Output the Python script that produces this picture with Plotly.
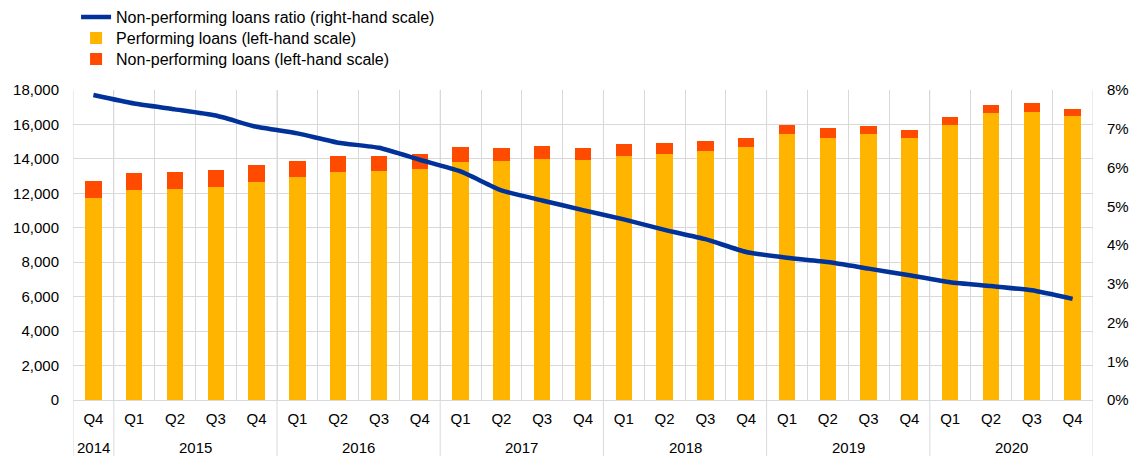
import plotly.graph_objects as go

quarters = ["Q4", "Q1", "Q2", "Q3", "Q4", "Q1", "Q2", "Q3", "Q4", "Q1", "Q2", "Q3", "Q4",
            "Q1", "Q2", "Q3", "Q4", "Q1", "Q2", "Q3", "Q4", "Q1", "Q2", "Q3", "Q4"]
years = ["2014", "2015", "2016", "2017", "2018", "2019", "2020"]
year_quarter_counts = [1, 4, 4, 4, 4, 4, 4]

performing = [11710, 12200, 12240, 12350, 12660, 12940, 13230, 13270, 13400,
              13830, 13870, 13990, 13950, 14180, 14300, 14450, 14670,
              15430, 15210, 15430, 15210, 15950, 16650, 16710, 16480]
total = [12690, 13170, 13210, 13330, 13620, 13870, 14160, 14160, 14260,
         14690, 14650, 14730, 14650, 14880, 14940, 15060, 15230,
         15990, 15780, 15930, 15700, 16440, 17140, 17220, 16910]
non_performing = [t - p for t, p in zip(total, performing)]
npl_ratio = [7.87, 7.65, 7.50, 7.34, 7.05, 6.88, 6.64, 6.51, 6.20,
             5.90, 5.41, 5.15, 4.90, 4.66, 4.39, 4.15, 3.82,
             3.67, 3.56, 3.39, 3.22, 3.04, 2.94, 2.83, 2.61]

left_ticks = list(range(0, 18001, 2000))
right_ticks = list(range(0, 9))

x = list(range(len(quarters)))

YELLOW = "#FFB400"
ORANGE = "#FF4B00"
BLUE = "#003299"
GRID = "#D9D9D9"
FONT = "Liberation Sans, Arial, sans-serif"

fig = go.Figure()
fig.add_trace(go.Scatter(x=x, y=npl_ratio, yaxis="y2", mode="lines",
                         name="Non-performing loans ratio (right-hand scale)",
                         legend="legend",
                         line=dict(color=BLUE, width=4.5, shape="spline", smoothing=0.5)))
fig.add_trace(go.Bar(x=x, y=performing, name="Performing loans (left-hand scale)",
                     legend="legend2",
                     marker=dict(color=YELLOW, line=dict(width=0))))
fig.add_trace(go.Bar(x=x, y=non_performing, name="Non-performing loans (left-hand scale)",
                     legend="legend3",
                     marker=dict(color=ORANGE, line=dict(width=0))))

# year separators extending below axis
bounds = [-0.5]
for c in year_quarter_counts:
    bounds.append(bounds[-1] + c)
shapes = []
for b in bounds:
    shapes.append(dict(type="line", xref="x", yref="paper", x0=b, x1=b, y0=-0.19, y1=1,
                       line=dict(color=GRID, width=1), layer="below"))

annotations = []
for yr, s, e in zip(years, bounds[:-1], bounds[1:]):
    annotations.append(dict(x=(s + e) / 2, y=-0.152, xref="x", yref="paper", text=yr,
                            showarrow=False, yanchor="middle",
                            font=dict(family=FONT, size=15, color="#000000")))


def leg(ypos):
    return dict(x=0.003, y=ypos, xanchor="left", yanchor="top",
                font=dict(family=FONT, size=16), itemwidth=30,
                bgcolor="rgba(0,0,0,0)")


fig.update_layout(
    width=1131, height=456,
    margin=dict(l=73, r=38, t=90, b=56, autoexpand=False),
    paper_bgcolor="white", plot_bgcolor="white",
    barmode="stack", bargap=0.6,
    font=dict(family=FONT, size=15, color="#000000"),
    showlegend=True,
    legend=leg(1.2897),
    legend2=leg(1.2219),
    legend3=leg(1.1542),
    xaxis=dict(range=[-0.5, len(quarters) - 0.5], tickmode="array", tickvals=x,
               ticktext=quarters, showgrid=False, zeroline=False,
               showline=True, linecolor=GRID, linewidth=1, ticks="",
               minor=dict(tickmode="array", tickvals=[i + 0.5 for i in x[:-1]],
                          showgrid=True, gridcolor=GRID, gridwidth=1, ticks=""),
               tickfont=dict(size=15), ticklabelstandoff=5),
    yaxis=dict(range=[0, 18000], tickvals=left_ticks,
               ticktext=[f"{v:,}" for v in left_ticks], showgrid=True, gridcolor=GRID,
               gridwidth=1, zeroline=False, showline=False, ticks="",
               ticklabelstandoff=13, tickfont=dict(size=15)),
    yaxis2=dict(range=[0, 8], tickvals=right_ticks, ticktext=[f"{v}%" for v in right_ticks],
                overlaying="y", side="right", showgrid=False, zeroline=False,
                showline=False, ticks="", ticklabelstandoff=13, tickfont=dict(size=15)),
    shapes=shapes,
    annotations=annotations,
)

fig.write_html("out.html", config={"displayModeBar": False},
               post_script="document.body.style.margin='0';document.body.style.overflow='hidden';")
